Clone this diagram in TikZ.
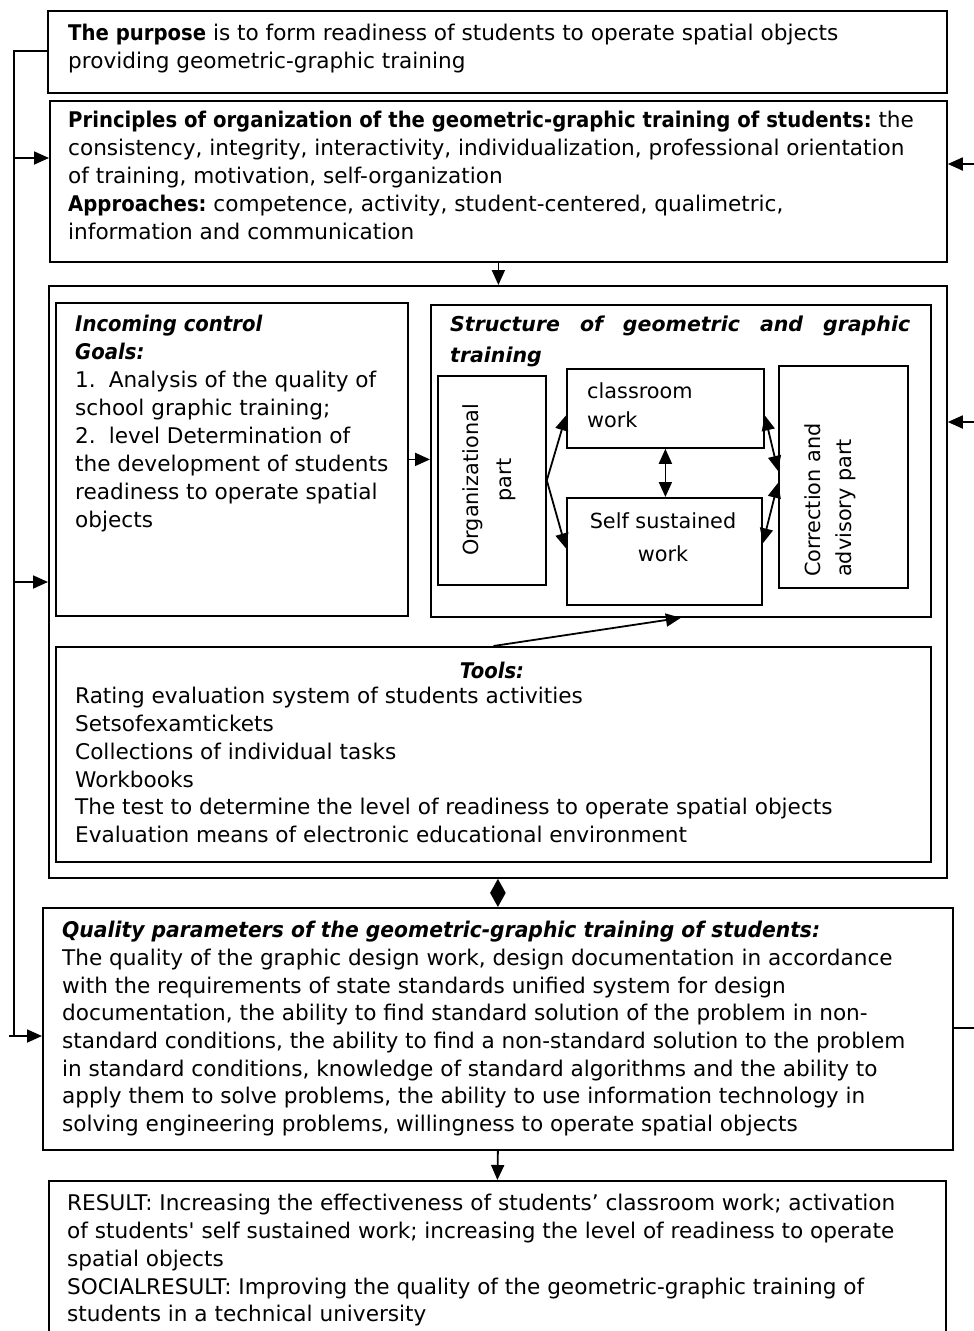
\documentclass[tikz,border=0pt]{standalone}
\usepackage{fontspec}
\usepackage{graphicx}
\newfontfamily\dejavu{DejaVu Sans}
\newcommand\bseg[1]{\scalebox{0.91}[1]{\bfseries #1}}
\newcommand\biseg[2][0.91]{\scalebox{#1}[1]{\bfseries\itshape #2}}
\usetikzlibrary{arrows.meta}
\begin{document}
\begin{tikzpicture}[x=1pt,y=-1pt,
  box/.style={draw,line width=1.8pt,inner sep=0pt,anchor=north west},
  txt/.style={inner sep=0pt,anchor=north west,align=left,font=\dejavu\fontsize{21.6}{28}\selectfont},
  lbl/.style={inner sep=0pt,font=\dejavu\fontsize{20.8}{31}\selectfont},
  tip/.style={-{Triangle[length=15pt,width=13pt]}},
  dtip/.style={{Triangle[length=15pt,width=13pt]}-{Triangle[length=15pt,width=13pt]}},
  con/.style={line width=1.8pt}]
\useasboundingbox (0,0) rectangle (974,1331);
\clip (0,0) rectangle (974,1331);
% boxes
\node[box,minimum width=899pt,minimum height=82pt] (purpose) at (47,10) {};
\node[box,minimum width=897pt,minimum height=161pt] (principles) at (49,100) {};
\node[box,minimum width=898pt,minimum height=592pt] (outer) at (48,285) {};
\node[box,minimum width=352pt,minimum height=313pt] (incoming) at (55,302) {};
\node[box,minimum width=500pt,minimum height=312pt] (structure) at (430,304) {};
\node[box,minimum width=108pt,minimum height=209pt] (org) at (437,375) {};
\node[box,minimum width=197pt,minimum height=79pt] (class) at (566,368) {};
\node[box,minimum width=195pt,minimum height=107pt] (self) at (566,497) {};
\node[box,minimum width=129pt,minimum height=222pt] (corr) at (778,365) {};
\node[box,minimum width=875pt,minimum height=215pt] (tools) at (55,646) {};
\node[box,minimum width=910pt,minimum height=242pt] (quality) at (42,907) {};
\node[box,minimum width=897pt,minimum height=220pt] (result) at (48,1180) {};
% texts
\node[txt] (tpurpose) at (68,24) {\bseg{The purpose} is to form readiness of students to operate spatial objects\\providing geometric-graphic training};
\node[txt] (tprinciples) at (68,111) {\bseg{Principles of organization of the geometric-graphic training of students:} the\\consistency, integrity, interactivity, individualization, professional orientation\\of training, motivation, self-organization\\\bseg{Approaches:} competence, activity, student-centered, qualimetric,\\information and communication};
\node[txt] (tincoming) at (75,315) {\biseg{Incoming control}\\\biseg{Goals:}\\1.\hspace{0.6em}Analysis of the quality of\\school graphic training;\\2.\hspace{0.6em}level Determination of\\the development of students\\readiness to operate spatial\\objects};
\node[txt,text width=460pt,font=\dejavu\fontsize{20.5}{31}\selectfont] (tstructure) at (450,316) {\textbf{\textit{Structure\hfill of\hfill geometric\hfill and\hfill graphic\\training}}};
\node[lbl,anchor=center,align=center,rotate=90,font=\dejavu\fontsize{20.8}{33}\selectfont] (torg) at (489,480) {Organizational\\part};
\node[lbl,anchor=west,align=left,rotate=90] (tcorr) at (830,577) {Correction and\\advisory part};
\node[lbl,anchor=north west,align=left,font=\dejavu\fontsize{20.8}{29}\selectfont] (tclass) at (587,382) {classroom\\work};
\node[lbl,anchor=center,align=center,font=\dejavu\fontsize{20.8}{33}\selectfont] (tself) at (663,537) {Self sustained\\work};
\node[txt,anchor=center] (ttoolsT) at (492,670) {\biseg{Tools:}};
\node[txt,font=\dejavu\fontsize{21.6}{27.8}\selectfont] (ttools) at (75,687) {Rating evaluation system of students activities\\Setsofexamtickets\\Collections of individual tasks\\Workbooks\\The test to determine the level of readiness to operate spatial objects\\Evaluation means of electronic educational environment};
\node[txt,font=\dejavu\fontsize{21.6}{27.7}\selectfont] (tquality) at (62,921) {\biseg[0.94]{Quality parameters of the geometric-graphic training of students:}\\The quality of the graphic design work, design documentation in accordance\\with the requirements of state standards unified system for design\\documentation, the ability to find standard solution of the problem in non-\\standard conditions, the ability to find a non-standard solution to the problem\\in standard conditions, knowledge of standard algorithms and the ability to\\apply them to solve problems, the ability to use information technology in\\solving engineering problems, willingness to operate spatial objects};
\node[txt,font=\dejavu\fontsize{21.6}{27.8}\selectfont] (tresult) at (67,1194) {RESULT: Increasing the effectiveness of students’ classroom work; activation\\of students' self sustained work; increasing the level of readiness to operate\\spatial objects\\SOCIALRESULT: Improving the quality of the geometric-graphic training of\\students in a technical university};
% connectors
\draw[con,tip] (principles.south) -- (principles.south |- outer.north);
\draw[con,tip] (incoming.east) -- (incoming.east -| structure.west);
\draw[con,tip] (org.east) -- ([yshift=-7pt]class.west);
\draw[con,tip] (org.east) -- ([yshift=3pt]self.west);
\draw[con,dtip] (class.south) -- (class.south |- self.north);
\draw[con,dtip] ([yshift=-7pt]class.east) -- ([yshift=6pt]corr.west);
\draw[con,dtip] ([yshift=8pt]self.east) -- ([yshift=-6pt]corr.west);
\draw[con,tip] (tools.north) -- (structure.south);
\draw[con,{Triangle[length=14pt,width=15pt]}-{Triangle[length=14pt,width=15pt]}] (outer.south) -- (quality.north);
\draw[con,tip] (quality.south) -- (result.north);
% left feedback
\coordinate (lt) at (14,51);
\coordinate (lp) at (14,158);
\coordinate (lo) at (14,582);
\coordinate (lq) at (14,1036);
\coordinate (lqs) at (9,1036);
\draw[con] (purpose.west |- lt) -- (lt) -- (lq);
\draw[con,tip] (lp) -- (lp -| principles.west);
\draw[con,tip] (lo) -- (lo -| outer.west);
\draw[con,tip] (lqs) -- (lqs -| quality.west);
% right feedback
\coordinate (rp) at (980,164);
\coordinate (ro) at (980,422);
\coordinate (rq) at (980,1028);
\draw[con] (rq -| quality.east) -- (rq) -- (rp);
\draw[con,tip] (rp) -- (rp -| principles.east);
\draw[con,tip] (ro) -- (ro -| outer.east);
\end{tikzpicture}
\end{document}
